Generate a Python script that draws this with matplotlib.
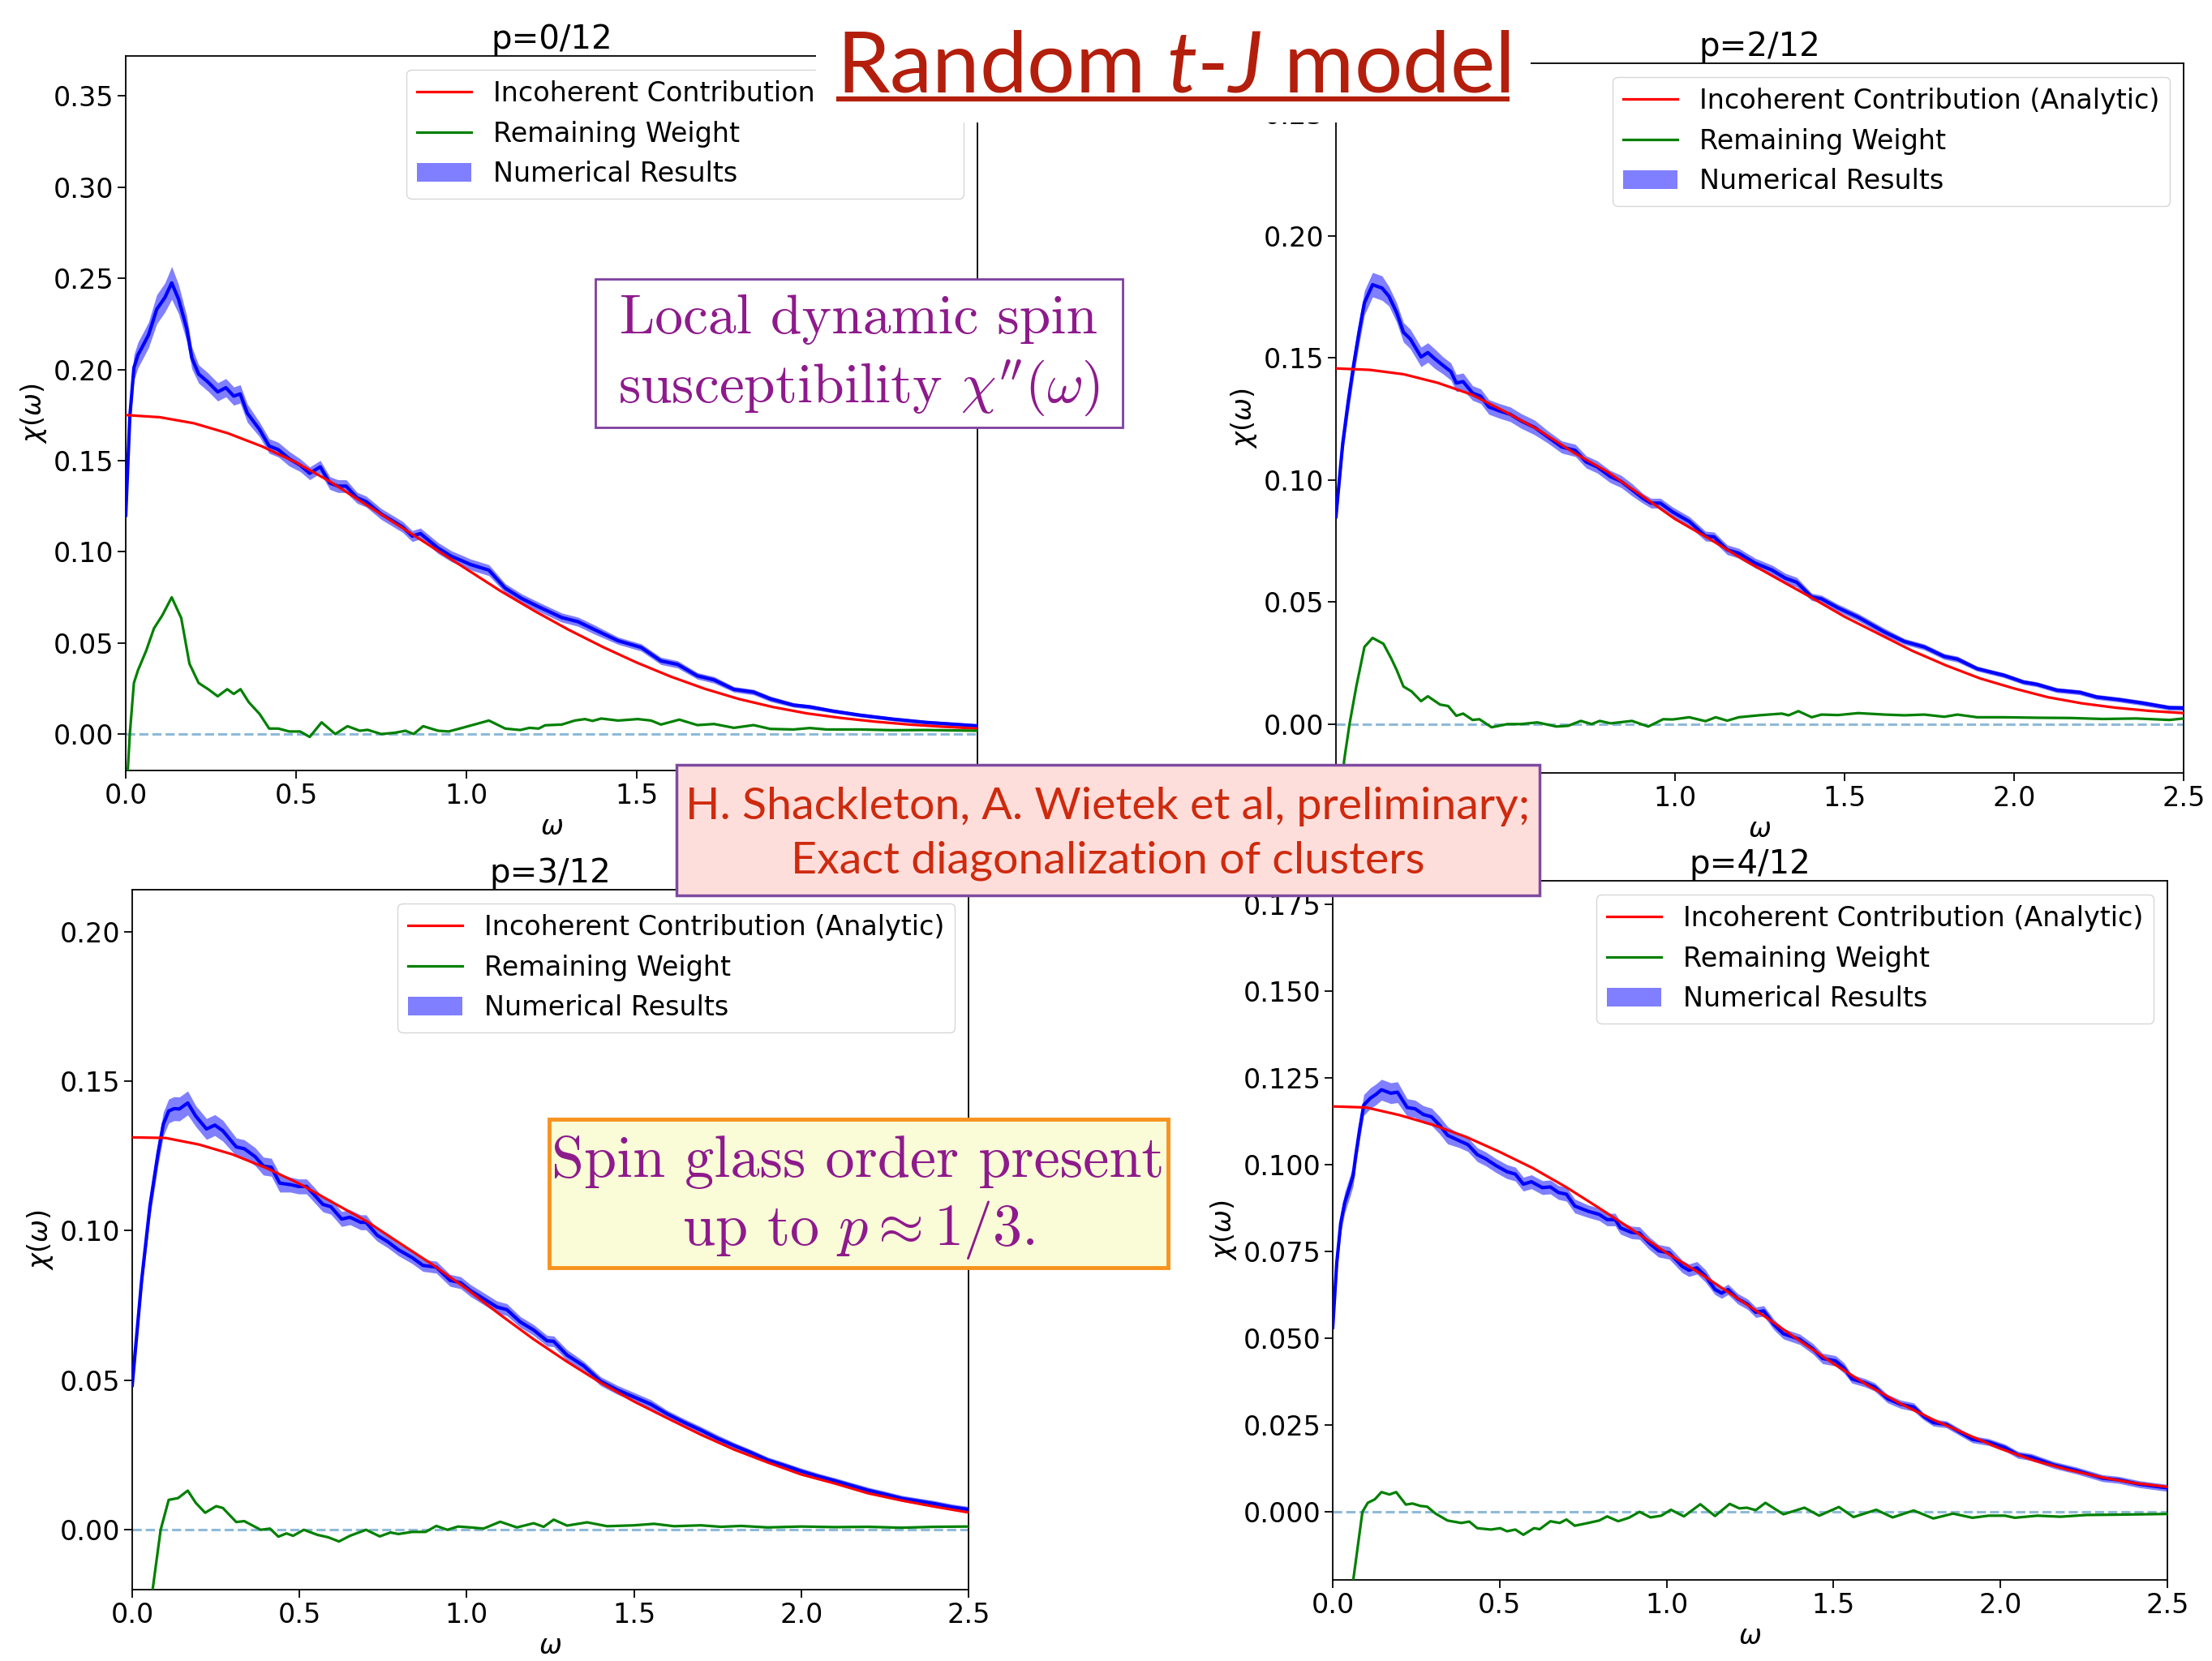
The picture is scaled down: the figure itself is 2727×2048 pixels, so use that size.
import numpy as np
import matplotlib
matplotlib.use("Agg")
import matplotlib.pyplot as plt
from matplotlib.patches import Rectangle
from matplotlib.lines import Line2D

plt.rcParams['font.family'] = ['DejaVu Sans']
plt.rcParams['mathtext.fontset'] = 'dejavusans'
plt.rcParams['mathtext.rm'] = 'Lato'
plt.rcParams['mathtext.it'] = 'Lato:italic'
plt.rcParams['mathtext.bf'] = 'Lato:bold'

# ---------------- data ----------------
omega_red = [0.0, 0.1, 0.2, 0.3, 0.4, 0.5, 0.6, 0.7, 0.8, 0.9,
             1.0, 1.1, 1.2, 1.3, 1.4, 1.5, 1.6, 1.7, 1.8, 1.9,
             2.0, 2.1, 2.2, 2.3, 2.4, 2.5]

red_p0 = [0.175, 0.1738, 0.1705, 0.165, 0.1578, 0.149, 0.1385, 0.1265, 0.1145, 0.1025,
          0.0905, 0.0785, 0.0675, 0.0572, 0.0478, 0.0392, 0.0315, 0.0248, 0.0192, 0.0148,
          0.0113, 0.0088, 0.0068, 0.0052, 0.004, 0.003]
red_p2 = [0.1457, 0.1451, 0.1433, 0.1398, 0.1350, 0.1279, 0.1203, 0.1113, 0.1034, 0.0938,
          0.0840, 0.0760, 0.0675, 0.0597, 0.0520, 0.0440, 0.0370, 0.0300, 0.0240, 0.0187,
          0.0146, 0.0110, 0.0085, 0.0067, 0.0054, 0.0045]
red_p3 = [0.1312, 0.1310, 0.1288, 0.1255, 0.1210, 0.1157, 0.1094, 0.1032, 0.0958, 0.0885,
          0.0805, 0.0719, 0.0637, 0.0562, 0.0492, 0.0429, 0.0373, 0.0318, 0.0268, 0.0225,
          0.0185, 0.0155, 0.0122, 0.0098, 0.0077, 0.0058]
red_p4 = [0.1168, 0.1165, 0.1143, 0.1115, 0.1080, 0.1037, 0.0990, 0.0935, 0.0874, 0.0811,
          0.0746, 0.0687, 0.0623, 0.0559, 0.0492, 0.0427, 0.0366, 0.0312, 0.0265, 0.0223,
          0.0182, 0.0148, 0.0122, 0.0100, 0.0083, 0.0072]

omega_p0 = [0.000, 0.012, 0.024, 0.036, 0.052, 0.067, 0.091, 0.115, 0.135, 0.155,
            0.179, 0.194, 0.214, 0.242, 0.270, 0.294, 0.317, 0.336, 0.357, 0.393,
            0.421, 0.448, 0.480, 0.512, 0.540, 0.571, 0.599, 0.623, 0.647, 0.679,
            0.706, 0.750, 0.813, 0.841, 0.865, 0.917, 0.956, 0.988, 1.012, 1.066,
            1.114, 1.163, 1.212, 1.280, 1.328, 1.377, 1.445, 1.513, 1.571, 1.620,
            1.678, 1.727, 1.785, 1.843, 1.892, 1.960, 2.008, 2.076, 2.154, 2.251,
            2.349, 2.500]
chi_p0 = [0.120, 0.174, 0.201, 0.208, 0.2136, 0.219, 0.233, 0.2395, 0.2475, 0.2386,
          0.2225, 0.2064, 0.1975, 0.193, 0.1877, 0.190, 0.1854, 0.1866, 0.176, 0.167,
          0.158, 0.156, 0.151, 0.1475, 0.143, 0.1466, 0.1377, 0.136, 0.136, 0.1296,
          0.1275, 0.1207, 0.1136, 0.1086, 0.110, 0.102, 0.0975, 0.095, 0.093, 0.0899,
          0.080, 0.0743, 0.0698, 0.0639, 0.0616, 0.0572, 0.0512, 0.0475, 0.0401, 0.0382,
          0.0319, 0.0297, 0.0245, 0.023, 0.0193, 0.0159, 0.0149, 0.0126, 0.0104, 0.0082,
          0.0064, 0.0045]
err_p0 = [0.004, 0.006, 0.007, 0.007, 0.007, 0.007, 0.008, 0.008, 0.009, 0.008,
          0.007, 0.006, 0.005, 0.005, 0.005, 0.005, 0.005, 0.005, 0.005, 0.004,
          0.004, 0.004, 0.004, 0.0035, 0.0035, 0.0035, 0.0035, 0.0035, 0.0035, 0.003,
          0.003, 0.003, 0.003, 0.003, 0.003, 0.003, 0.003, 0.003, 0.003, 0.003,
          0.0025, 0.0025, 0.0025, 0.0025, 0.0025, 0.0025, 0.002, 0.002, 0.002, 0.002,
          0.0018, 0.0018, 0.0015, 0.0015, 0.0015, 0.0012, 0.0012, 0.001, 0.001, 0.001,
          0.001, 0.001]

omega_p2 = [0.000, 0.020, 0.036, 0.052, 0.068, 0.084, 0.108, 0.136, 0.156, 0.179,
            0.199, 0.219, 0.251, 0.271, 0.291, 0.315, 0.339, 0.355, 0.375, 0.403,
            0.427, 0.451, 0.482, 0.514, 0.546, 0.586, 0.626, 0.666, 0.706, 0.738,
            0.770, 0.809, 0.841, 0.873, 0.905, 0.929, 0.957, 0.993, 1.042, 1.090,
            1.115, 1.154, 1.188, 1.237, 1.286, 1.325, 1.359, 1.403, 1.432, 1.481,
            1.540, 1.618, 1.677, 1.735, 1.794, 1.833, 1.891, 1.970, 2.028, 2.067,
            2.126, 2.194, 2.243, 2.311, 2.380, 2.458, 2.500]
chi_p2 = [0.085, 0.115, 0.132, 0.147, 0.1605, 0.1726, 0.180, 0.1786, 0.1753, 0.1686,
          0.1605, 0.1578, 0.1504, 0.1522, 0.1497, 0.147, 0.1444, 0.1397, 0.1403, 0.1356,
          0.1343, 0.1299, 0.1283, 0.1269, 0.1242, 0.1215, 0.1175, 0.1135, 0.1121, 0.1074,
          0.1054, 0.1014, 0.0994, 0.096, 0.0925, 0.0905, 0.0905, 0.0869, 0.083, 0.077,
          0.0767, 0.0714, 0.070, 0.0659, 0.0631, 0.0598, 0.0581, 0.0521, 0.0513, 0.0476,
          0.0438, 0.0377, 0.0338, 0.0316, 0.0277, 0.0266, 0.0227, 0.020, 0.0172, 0.0163,
          0.0139, 0.013, 0.0111, 0.010, 0.0086, 0.0067, 0.0066]
err_p2 = [0.003, 0.004, 0.005, 0.005, 0.005, 0.005, 0.005, 0.005, 0.004, 0.004,
          0.004, 0.004, 0.004, 0.004, 0.004, 0.0035, 0.0035, 0.0035, 0.0035, 0.003,
          0.003, 0.003, 0.003, 0.003, 0.003, 0.003, 0.0025, 0.0025, 0.0025, 0.0025,
          0.0025, 0.0025, 0.0025, 0.0025, 0.002, 0.002, 0.002, 0.002, 0.002, 0.002,
          0.002, 0.002, 0.002, 0.002, 0.002, 0.002, 0.002, 0.0015, 0.0015, 0.0015,
          0.0015, 0.0015, 0.0012, 0.0012, 0.0012, 0.0012, 0.001, 0.001, 0.001, 0.001,
          0.001, 0.001, 0.001, 0.001, 0.001, 0.001, 0.001]

omega_p3 = [0.000, 0.028, 0.053, 0.077, 0.093, 0.109, 0.125, 0.141, 0.166, 0.190,
            0.222, 0.247, 0.271, 0.311, 0.335, 0.368, 0.392, 0.416, 0.441, 0.473,
            0.497, 0.521, 0.570, 0.594, 0.626, 0.651, 0.683, 0.699, 0.732, 0.764,
            0.796, 0.837, 0.869, 0.909, 0.950, 0.982, 1.011, 1.05, 1.09, 1.12,
            1.16, 1.20, 1.24, 1.26, 1.30, 1.35, 1.40, 1.45, 1.50, 1.55,
            1.60, 1.65, 1.70, 1.75, 1.80, 1.85, 1.90, 1.95, 2.00, 2.05,
            2.10, 2.15, 2.20, 2.25, 2.30, 2.35, 2.40, 2.45, 2.50]
chi_p3 = [0.0483, 0.0832, 0.1083, 0.1258, 0.1356, 0.140, 0.1408, 0.1407, 0.1427, 0.1383,
          0.134, 0.1353, 0.1334, 0.128, 0.1274, 0.1247, 0.1216, 0.1212, 0.1159, 0.1154,
          0.1148, 0.1148, 0.1088, 0.108, 0.1039, 0.1045, 0.1028, 0.1028, 0.0985, 0.0963,
          0.0936, 0.091, 0.0884, 0.0878, 0.0834, 0.0826, 0.0800, 0.0773, 0.0745, 0.0736,
          0.0695, 0.0668, 0.0632, 0.0630, 0.0584, 0.0548, 0.0497, 0.0468, 0.0444, 0.0420,
          0.0387, 0.0359, 0.0333, 0.0305, 0.0281, 0.0258, 0.0233, 0.0215, 0.0196, 0.0179,
          0.0164, 0.0148, 0.0132, 0.0119, 0.0105, 0.0096, 0.0087, 0.0076, 0.0068]
err_p3 = [0.002, 0.003, 0.004, 0.004, 0.004, 0.004, 0.004, 0.004, 0.004, 0.0035,
          0.0035, 0.0035, 0.0035, 0.003, 0.003, 0.003, 0.003, 0.003, 0.003, 0.0025,
          0.0025, 0.0025, 0.0025, 0.0025, 0.0025, 0.0025, 0.0025, 0.0025, 0.002, 0.002,
          0.002, 0.002, 0.002, 0.002, 0.002, 0.002, 0.002, 0.002, 0.002, 0.002,
          0.0018, 0.0018, 0.0018, 0.0018, 0.0018, 0.0015, 0.0015, 0.0015, 0.0015, 0.0015,
          0.0012, 0.0012, 0.0012, 0.0012, 0.001, 0.001, 0.001, 0.001, 0.001, 0.001,
          0.001, 0.001, 0.001, 0.001, 0.001, 0.001, 0.001, 0.001, 0.001]

omega_p4 = [0.000, 0.012, 0.024, 0.036, 0.049, 0.061, 0.069, 0.081, 0.093, 0.113,
            0.130, 0.146, 0.174, 0.194, 0.223, 0.247, 0.271, 0.296, 0.320, 0.344,
            0.377, 0.405, 0.433, 0.458, 0.490, 0.522, 0.547, 0.571, 0.595, 0.628,
            0.652, 0.676, 0.700, 0.725, 0.765, 0.798, 0.822, 0.846, 0.862, 0.895,
            0.919, 0.948, 0.976, 1.008, 1.047, 1.067, 1.091, 1.116, 1.145, 1.165,
            1.184, 1.213, 1.243, 1.267, 1.291, 1.321, 1.350, 1.399, 1.438, 1.467,
            1.506, 1.531, 1.555, 1.594, 1.623, 1.662, 1.701, 1.740, 1.770, 1.799,
            1.838, 1.867, 1.916, 1.965, 2.014, 2.053, 2.092, 2.160, 2.228, 2.306,
            2.355, 2.414, 2.500]
chi_p4 = [0.0531, 0.0716, 0.0832, 0.0891, 0.093, 0.0968, 0.1027, 0.1104, 0.1172, 0.1192,
          0.1203, 0.1216, 0.1206, 0.1209, 0.1165, 0.1161, 0.1145, 0.1138, 0.1114, 0.1085,
          0.107, 0.1058, 0.1029, 0.1017, 0.0997, 0.098, 0.0973, 0.0944, 0.0951, 0.0934,
          0.0936, 0.092, 0.0915, 0.0881, 0.0866, 0.0857, 0.0842, 0.0842, 0.0818, 0.0805,
          0.0803, 0.0774, 0.0752, 0.0746, 0.0707, 0.0696, 0.0703, 0.068, 0.0641, 0.063,
          0.0641, 0.0614, 0.0598, 0.0575, 0.0579, 0.054, 0.0513, 0.0497, 0.047, 0.0442,
          0.0435, 0.0415, 0.0383, 0.0372, 0.036, 0.0326, 0.031, 0.0302, 0.0275, 0.0257,
          0.0252, 0.0236, 0.0209, 0.0201, 0.0185, 0.0164, 0.0158, 0.0135, 0.0119, 0.0097,
          0.0092, 0.008, 0.0069]
err_p4 = [0.002, 0.0025, 0.003, 0.003, 0.003, 0.003, 0.003, 0.003, 0.003, 0.003,
          0.003, 0.003, 0.003, 0.003, 0.0025, 0.0025, 0.0025, 0.0025, 0.0025, 0.0025,
          0.002, 0.002, 0.002, 0.002, 0.002, 0.002, 0.002, 0.002, 0.002, 0.002,
          0.002, 0.002, 0.002, 0.002, 0.0018, 0.0018, 0.0018, 0.0018, 0.0018, 0.0018,
          0.0018, 0.0018, 0.0018, 0.0018, 0.0018, 0.0018, 0.0018, 0.0018, 0.0015, 0.0015,
          0.0015, 0.0015, 0.0015, 0.0015, 0.0015, 0.0015, 0.0015, 0.0015, 0.0015, 0.0015,
          0.0015, 0.0015, 0.0012, 0.0012, 0.0012, 0.0012, 0.0012, 0.0012, 0.001, 0.001,
          0.001, 0.001, 0.001, 0.001, 0.001, 0.001, 0.001, 0.001, 0.001, 0.001,
          0.001, 0.001, 0.001]

gw_p0 = [0.000, 0.006, 0.012, 0.024, 0.036, 0.060, 0.083, 0.107, 0.135, 0.163,
         0.187, 0.214, 0.242, 0.270, 0.298, 0.317, 0.337, 0.361, 0.393, 0.421,
         0.448, 0.480, 0.512, 0.540, 0.575, 0.615, 0.651, 0.687, 0.710, 0.750,
         0.790, 0.821, 0.845, 0.873, 0.917, 0.948, 0.988, 1.066, 1.114, 1.158,
         1.185, 1.212, 1.231, 1.280, 1.318, 1.348, 1.370, 1.396, 1.445, 1.503,
         1.542, 1.571, 1.625, 1.678, 1.727, 1.785, 1.843, 1.892, 1.960, 2.008,
         2.057, 2.154, 2.251, 2.349, 2.500]
green_p0 = [-0.055, -0.020, 0.000, 0.028, 0.035, 0.0457, 0.058, 0.065, 0.075, 0.0636,
            0.0386, 0.028, 0.0246, 0.0207, 0.0246, 0.022, 0.0246, 0.0175, 0.011, 0.003,
            0.003, 0.0014, 0.0014, -0.0016, 0.0064, 0.000, 0.0043, 0.0018, 0.0023, 0.000,
            0.0007, 0.0018, 0.000, 0.0043, 0.0018, 0.0014, 0.0034, 0.0074, 0.003, 0.0022,
            0.0034, 0.003, 0.0048, 0.0052, 0.0074, 0.0082, 0.0072, 0.0085, 0.0074, 0.0082,
            0.0074, 0.0052, 0.0079, 0.0049, 0.0055, 0.0034, 0.0049, 0.0028, 0.0025, 0.0033,
            0.0025, 0.0025, 0.0021, 0.0022, 0.0018]

gw_p2 = [0.000, 0.024, 0.040, 0.060, 0.084, 0.108, 0.140, 0.163, 0.179, 0.199,
         0.223, 0.251, 0.271, 0.307, 0.331, 0.355, 0.375, 0.403, 0.423, 0.459,
         0.506, 0.546, 0.594, 0.650, 0.685, 0.722, 0.754, 0.778, 0.810, 0.873,
         0.921, 0.965, 0.993, 1.042, 1.090, 1.120, 1.154, 1.188, 1.247, 1.315,
         1.335, 1.364, 1.403, 1.432, 1.481, 1.540, 1.618, 1.677, 1.735, 1.794,
         1.833, 1.891, 1.970, 2.067, 2.165, 2.262, 2.360, 2.458, 2.500]
green_p2 = [-0.061, -0.015, 0.000, 0.0154, 0.0316, 0.0353, 0.0329, 0.0269, 0.0222, 0.0154,
            0.0134, 0.0094, 0.0114, 0.008, 0.0074, 0.0034, 0.0043, 0.0017, 0.002, -0.0013,
            0.000, 0.000, 0.0007, -0.001, -0.0007, 0.0013, 0.000, 0.0013, 0.0003, 0.0013,
            -0.001, 0.002, 0.0019, 0.0028, 0.0012, 0.0028, 0.0014, 0.0028, 0.0036, 0.0043,
            0.0036, 0.0053, 0.0028, 0.0039, 0.0037, 0.0045, 0.0039, 0.0036, 0.0039, 0.003,
            0.0039, 0.0028, 0.0028, 0.0026, 0.0025, 0.0021, 0.0023, 0.0017, 0.0023]

gw_p3 = [0.000, 0.061, 0.085, 0.109, 0.137, 0.166, 0.190, 0.218, 0.251, 0.271,
         0.311, 0.335, 0.384, 0.412, 0.437, 0.461, 0.481, 0.513, 0.554, 0.586,
         0.618, 0.651, 0.699, 0.740, 0.772, 0.796, 0.837, 0.877, 0.909, 0.942,
         0.974, 1.011, 1.05, 1.10, 1.15, 1.20, 1.23, 1.26, 1.30, 1.36,
         1.42, 1.50, 1.56, 1.62, 1.70, 1.76, 1.82, 1.90, 2.00, 2.10,
         2.20, 2.30, 2.40, 2.50]
green_p3 = [-0.083, -0.020, 0.000, 0.010, 0.0106, 0.0131, 0.009, 0.0057, 0.0079, 0.0073,
            0.0026, 0.0029, 0.000, 0.0004, -0.0023, -0.0012, -0.002, 0.000, -0.0017, -0.0025,
            -0.0039, -0.002, 0.000, -0.0022, -0.0009, -0.0014, -0.0007, -0.0007, 0.0013, 0.000,
            0.0011, 0.0008, 0.0004, 0.0027, 0.0008, 0.0022, 0.0010, 0.0034, 0.0014, 0.0025,
            0.0012, 0.0015, 0.0020, 0.0012, 0.0015, 0.0010, 0.0013, 0.0008, 0.0011, 0.0009,
            0.0010, 0.0007, 0.0010, 0.0011]

gw_p4 = [0.000, 0.061, 0.089, 0.105, 0.126, 0.146, 0.170, 0.190, 0.219, 0.239,
         0.263, 0.283, 0.308, 0.344, 0.385, 0.409, 0.433, 0.474, 0.502, 0.522,
         0.547, 0.571, 0.603, 0.620, 0.652, 0.680, 0.700, 0.725, 0.765, 0.798,
         0.822, 0.855, 0.887, 0.919, 0.952, 0.984, 1.013, 1.052, 1.101, 1.145,
         1.189, 1.218, 1.240, 1.267, 1.296, 1.350, 1.413, 1.457, 1.516, 1.560,
         1.628, 1.677, 1.740, 1.799, 1.858, 1.916, 1.965, 2.014, 2.043, 2.111,
         2.180, 2.258, 2.355, 2.500]
green_p4 = [-0.064, -0.020, 0.000, 0.0026, 0.0036, 0.0057, 0.005, 0.0057, 0.0021, 0.0024,
            0.0017, 0.0015, -0.0005, -0.0025, -0.0032, -0.0028, -0.0047, -0.0051, -0.0047, -0.0056,
            -0.0051, -0.0066, -0.0047, -0.005, -0.0027, -0.0032, -0.0022, -0.004, -0.0032, -0.0025,
            -0.0013, -0.0027, -0.0017, 0.000, -0.0016, -0.0011, 0.0006, -0.0013, 0.0022, -0.0012,
            0.0023, 0.001, 0.0012, 0.0005, 0.0026, -0.0007, 0.0012, -0.0011, 0.0014, -0.0015,
            0.0006, -0.0016, 0.0004, -0.0019, -0.0005, -0.0017, -0.0011, -0.0011, -0.0017, -0.0011,
            -0.0014, -0.0009, -0.0008, -0.0006]

titles = ['p=0/12', 'p=2/12', 'p=3/12', 'p=4/12']
xticks = [0.0, 0.5, 1.0, 1.5, 2.0, 2.5]
yticks_p0 = [0.00, 0.05, 0.10, 0.15, 0.20, 0.25, 0.30, 0.35]
yticks_p2 = [0.00, 0.05, 0.10, 0.15, 0.20, 0.25]
yticks_p3 = [0.00, 0.05, 0.10, 0.15, 0.20]
yticks_p4 = [0.000, 0.025, 0.050, 0.075, 0.100, 0.125, 0.150, 0.175]
legend_labels = ['Incoherent Contribution (Analytic)', 'Remaining Weight', 'Numerical Results']

# ---------------- layout ----------------
W, H = 2727, 2048
fig = plt.figure(figsize=(W / 100, H / 100), dpi=100)
fig.patch.set_facecolor('white')


def rect_px(x0, y0, x1, y1):
    return [x0 / W, 1 - y1 / H, (x1 - x0) / W, (y1 - y0) / H]


# x tick labels hidden behind the reference box in the original slide
panels = [
    dict(rect=rect_px(155, 69, 1205, 950), ylim=(-0.02, 0.372), yt=yticks_p0, fmt='%.2f',
         hidden=[2.0, 2.5],
         w=omega_p0, c=chi_p0, e=err_p0, r=red_p0, gw=gw_p0, g=green_p0),
    dict(rect=rect_px(1647, 78, 2692, 953), ylim=(-0.02, 0.2707), yt=yticks_p2, fmt='%.2f',
         hidden=[0.0, 0.5],
         w=omega_p2, c=chi_p2, e=err_p2, r=red_p2, gw=gw_p2, g=green_p2),
    dict(rect=rect_px(163, 1097, 1194, 1960), ylim=(-0.02, 0.214), yt=yticks_p3, fmt='%.2f',
         hidden=[],
         w=omega_p3, c=chi_p3, e=err_p3, r=red_p3, gw=gw_p3, g=green_p3),
    dict(rect=rect_px(1643, 1086, 2672, 1948), ylim=(-0.0196, 0.1818), yt=yticks_p4, fmt='%.3f',
         hidden=[],
         w=omega_p4, c=chi_p4, e=err_p4, r=red_p4, gw=gw_p4, g=green_p4),
]

FS = 24
for P, ttl in zip(panels, titles):
    ax = fig.add_axes(P['rect'])
    w = np.array(P['w']); c = np.array(P['c']); e = np.array(P['e'])
    fill = ax.fill_between(w, c - e, c + e, color='blue', alpha=0.5, lw=0, zorder=2)
    ax.plot(w, c, color='blue', lw=3.0, zorder=3, solid_joinstyle='round')
    lr, = ax.plot(omega_red, P['r'], color='red', lw=2.3, zorder=4)
    lg, = ax.plot(P['gw'], P['g'], color='green', lw=2.3, zorder=4, solid_joinstyle='round')
    ax.axhline(0, ls='--', color='C0', alpha=0.5, lw=2.2, zorder=1.5)
    ax.set_xlim(0, 2.5)
    ax.set_ylim(*P['ylim'])
    ax.set_xticks(xticks)
    ax.set_xticklabels(['' if v in P['hidden'] else '%.1f' % v for v in xticks])
    ax.set_yticks(P['yt'])
    ax.set_yticklabels([P['fmt'] % v for v in P['yt']])
    ax.tick_params(labelsize=FS, length=7, width=1.3)
    for s in ax.spines.values():
        s.set_linewidth(1.3)
    ax.set_xlabel(r'$\omega$', fontsize=FS)
    ax.set_ylabel(r'$\chi(\omega)$', fontsize=FS)
    ax.set_title(ttl, fontsize=29)
    ax.legend([lr, lg, fill], legend_labels, loc='upper right', fontsize=FS)


def fx(x):
    return x / W


def fy(y):
    return 1 - y / H


def box(x0, y0, x1, y1, fc, ec, lw, z=10):
    r = Rectangle((fx(x0), fy(y1)), (x1 - x0) / W, (y1 - y0) / H, transform=fig.transFigure,
                  facecolor=fc, edgecolor=ec, lw=lw, zorder=z)
    fig.add_artist(r)
    return r


# title area (white cover)
box(1006, -5, 1887, 151, 'white', 'none', 0)
title_col = '#B31F0C'
t_title = fig.text(fx(1446), fy(113), r'Random $t$-$J$ model', ha='center', va='baseline',
                   fontsize=74, color=title_col, family='Lato', math_fontfamily='custom', zorder=11)

# purple box
purple = '#8E1A8C'
box(734, 344, 1384, 527, 'white', '#7F40A0', 2.0)
fig.text(fx(1059), fy(411), 'Local dynamic spin', ha='center', va='baseline', fontsize=50,
         color=purple, family='cmr10', zorder=11)
fig.text(fx(1059), fy(497), r"susceptibility $\chi''(\omega)$", ha='center', va='baseline',
         fontsize=50, color=purple, family='cmr10', math_fontfamily='cm', zorder=11)

# pink reference box
box(834, 943, 1898, 1104, '#FEDEDB', '#7E4AA0', 2.5)
ref_col = '#CE2A0E'
t_ref1 = fig.text(fx(1366), fy(1010), 'H. Shackleton, A. Wietek et al, preliminary;', ha='center',
                  va='baseline', fontsize=40, color=ref_col, family='Lato', zorder=11)
t_ref2 = fig.text(fx(1366), fy(1077), 'Exact diagonalization of clusters', ha='center',
                  va='baseline', fontsize=40, color=ref_col, family='Lato', zorder=11)

# orange box
box(677, 1380, 1440, 1563, '#F9FCD6', '#F7931E', 3.5)
fig.text(fx(1058), fy(1451), 'Spin glass order present', ha='center', va='baseline', fontsize=52,
         color=purple, family='cmr10', zorder=11)
fig.text(fx(1058), fy(1535), r'up to $p \approx 1/3$.', ha='center', va='baseline', fontsize=52,
         color=purple, family='cmr10', math_fontfamily='cm', zorder=11)

# fit widths of Gill-Sans-like texts
fig.canvas.draw()
rend = fig.canvas.get_renderer()
wt = t_title.get_window_extent(rend).width
t_title.set_fontsize(t_title.get_fontsize() * 830 / wt)
wr = t_ref1.get_window_extent(rend).width
newfs = t_ref1.get_fontsize() * 1040 / wr
t_ref1.set_fontsize(newfs)
t_ref2.set_fontsize(newfs)
fig.canvas.draw()
bb = t_title.get_window_extent(rend)
uy = fy(122)
fig.add_artist(Line2D([bb.x0 / W, bb.x1 / W], [uy, uy], transform=fig.transFigure,
                      color=title_col, lw=4.5, zorder=11, solid_capstyle='butt'))

fig.savefig('out.png', dpi=100, facecolor='white')
